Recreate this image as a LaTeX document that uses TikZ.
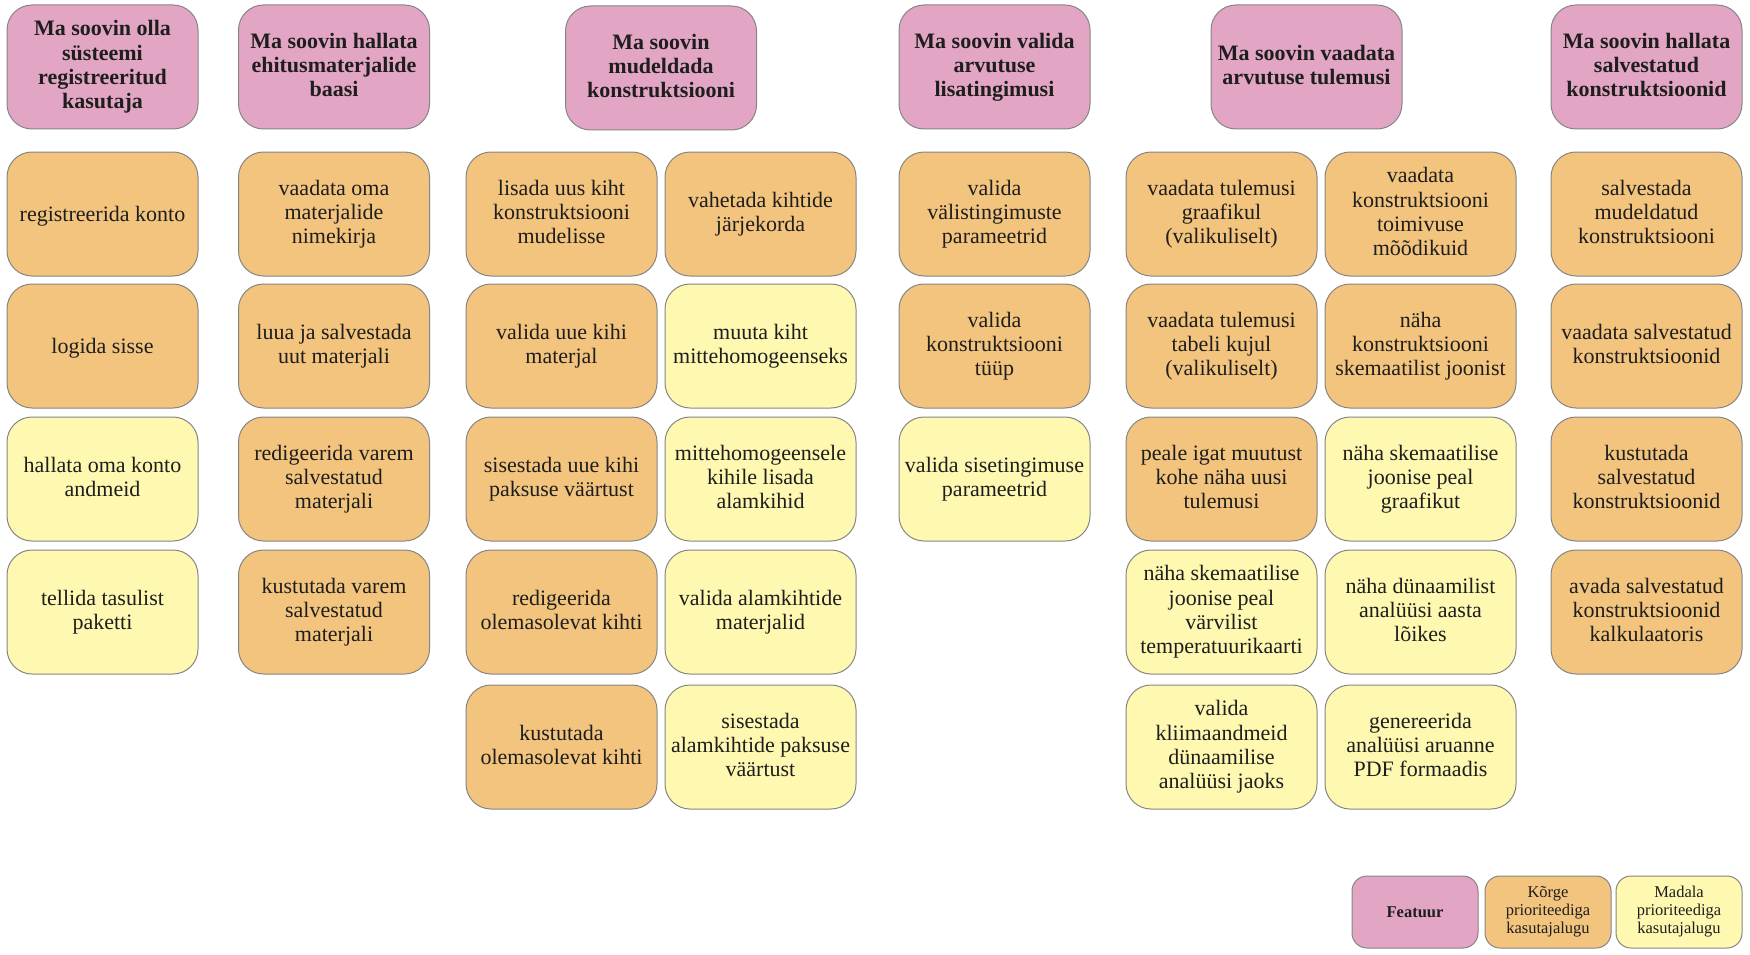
\documentclass[tikz,border=0pt]{standalone}
\usepackage{fontspec}
\setmainfont{Liberation Serif}
\definecolor{featpink}{HTML}{E3A5C4}
\definecolor{highor}{HTML}{F3C47D}
\definecolor{lowyel}{HTML}{FFF8B1}
\definecolor{edgegray}{HTML}{858585}
\definecolor{txt}{HTML}{1E1E1E}
\newcommand{\cardstrut}{\rule[-4.7pt]{0pt}{24.2pt}}
\newcommand{\featstrut}{\rule[-4.7pt]{0pt}{27.2pt}}
\newcommand{\legstrut}{\rule[-3.5pt]{0pt}{18pt}}
\tikzset{
  card/.style={draw=edgegray, line width=1pt, rounded corners=25pt, minimum width=191pt, minimum height=124pt, inner sep=0pt, align=center, text=txt, font=\fontsize{22}{24.2}\selectfont, execute at begin node=\cardstrut, execute at end node=\cardstrut},
  feat/.style={card, fill=featpink, font=\fontsize{22}{24.2}\selectfont\bfseries, execute at begin node=\featstrut},
  hi/.style={card, fill=highor},
  lo/.style={card, fill=lowyel},
  legend/.style={draw=edgegray, line width=1pt, rounded corners=15pt, minimum width=126pt, minimum height=72pt, inner sep=0pt, align=center, text=txt, font=\fontsize{16.5}{18}\selectfont, execute at begin node=\legstrut, execute at end node=\legstrut},
}
\begin{document}
\begin{tikzpicture}[x=1pt,y=-1pt]
\useasboundingbox (0,0) rectangle (1750,955);
% headers
\node[feat] (h1) at (102.5,67) {Ma soovin olla\\süsteemi\\registreeritud\\kasutaja};
\node[feat] (h2) at (334,67) {Ma soovin hallata\\ehitusmaterjalide\\baasi};
\node[feat] (h3) at (661,68) {Ma soovin\\mudeldada\\konstruktsiooni};
\node[feat] (h4) at (994.5,67) {Ma soovin valida\\arvutuse\\lisatingimusi};
\node[feat] (h5) at (1306.5,67) {Ma soovin vaadata\\arvutuse tulemusi};
\node[feat] (h6) at (1646.5,67) {Ma soovin hallata\\salvestatud\\konstruktsioonid};
% column 1
\node[hi] (a1) at (102.5,214) {registreerida konto};
\node[hi] (a2) at (102.5,346) {logida sisse};
\node[lo] (a3) at (102.5,479) {hallata oma konto\\andmeid};
\node[lo] (a4) at (102.5,612) {tellida tasulist\\paketti};
% column 2
\node[hi] (b1) at (334,214) {vaadata oma\\materjalide\\nimekirja};
\node[hi] (b2) at (334,346) {luua ja salvestada\\uut materjali};
\node[hi] (b3) at (334,479) {redigeerida varem\\salvestatud\\materjali};
\node[hi] (b4) at (334,612) {kustutada varem\\salvestatud\\materjali};
% column 3a
\node[hi] (c1) at (561.5,214) {lisada uus kiht\\konstruktsiooni\\mudelisse};
\node[hi] (c2) at (561.5,346) {valida uue kihi\\materjal};
\node[hi] (c3) at (561.5,479) {sisestada uue kihi\\paksuse väärtust};
\node[hi] (c4) at (561.5,612) {redigeerida\\olemasolevat kihti};
\node[hi] (c5) at (561.5,747) {kustutada\\olemasolevat kihti};
% column 3b
\node[hi] (d1) at (760.5,214) {vahetada kihtide\\järjekorda};
\node[lo] (d2) at (760.5,346) {muuta kiht\\mittehomogeenseks};
\node[lo] (d3) at (760.5,479) {mittehomogeensele\\kihile lisada\\alamkihid};
\node[lo] (d4) at (760.5,612) {valida alamkihtide\\materjalid};
\node[lo] (d5) at (760.5,747) {sisestada\\alamkihtide paksuse\\väärtust};
% column 4
\node[hi] (e1) at (994.5,214) {valida\\välistingimuste\\parameetrid};
\node[hi] (e2) at (994.5,346) {valida\\konstruktsiooni\\tüüp};
\node[lo] (e3) at (994.5,479) {valida sisetingimuse\\parameetrid};
% column 5a
\node[hi] (f1) at (1221.5,214) {vaadata tulemusi\\graafikul\\(valikuliselt)};
\node[hi] (f2) at (1221.5,346) {vaadata tulemusi\\tabeli kujul\\(valikuliselt)};
\node[hi] (f3) at (1221.5,479) {peale igat muutust\\kohe näha uusi\\tulemusi};
\node[lo] (f4) at (1221.5,612) {näha skemaatilise\\joonise peal\\värvilist\\temperatuurikaarti};
\node[lo] (f5) at (1221.5,747) {valida\\kliimaandmeid\\dünaamilise\\analüüsi jaoks};
% column 5b
\node[hi] (g1) at (1420.5,214) {vaadata\\konstruktsiooni\\toimivuse\\mõõdikuid};
\node[hi] (g2) at (1420.5,346) {näha\\konstruktsiooni\\skemaatilist joonist};
\node[lo] (g3) at (1420.5,479) {näha skemaatilise\\joonise peal\\graafikut};
\node[lo] (g4) at (1420.5,612) {näha dünaamilist\\analüüsi aasta\\lõikes};
\node[lo] (g5) at (1420.5,747) {genereerida\\analüüsi aruanne\\PDF formaadis};
% column 6
\node[hi] (k1) at (1646.5,214) {salvestada\\mudeldatud\\konstruktsiooni};
\node[hi] (k2) at (1646.5,346) {vaadata salvestatud\\konstruktsioonid};
\node[hi] (k3) at (1646.5,479) {kustutada\\salvestatud\\konstruktsioonid};
\node[hi] (k4) at (1646.5,612) {avada salvestatud\\konstruktsioonid\\kalkulaatoris};
% legend
\node[legend, fill=featpink, font=\fontsize{16.5}{18}\selectfont\bfseries] (l1) at (1415,912) {Featuur};
\node[legend, fill=highor] (l2) at (1548,912) {Kõrge\\prioriteediga\\kasutajalugu};
\node[legend, fill=lowyel] (l3) at (1679,912) {Madala\\prioriteediga\\kasutajalugu};
\end{tikzpicture}
\end{document}
